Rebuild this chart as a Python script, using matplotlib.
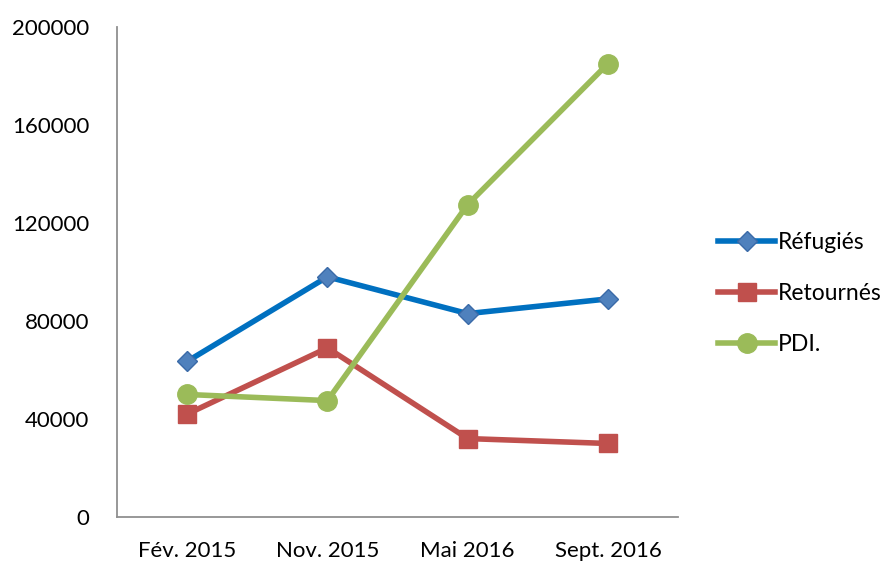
import matplotlib.pyplot as plt
import numpy as np

plt.rcParams['font.family'] = ['Lato', 'DejaVu Sans']

categories = ['Fév. 2015', 'Nov. 2015', 'Mai 2016', 'Sept. 2016']
refugies = [63500, 98000, 83000, 89000]
retournes = [42000, 69000, 32000, 30000]
pdi = [50000, 47500, 127500, 185000]

fig = plt.figure(figsize=(8.85, 5.62), dpi=100)
ax = fig.add_axes([0.1322, 0.0801, 0.634, 0.872])

x = np.arange(len(categories))
ax.plot(x, refugies, color='#0070c0', lw=4, marker='D', ms=10,
        mfc='#4f81bd', mec='#3a6aa8', label='Réfugiés', zorder=3)
ax.plot(x, retournes, color='#c0504d', lw=4, marker='s', ms=13,
        mfc='#c0504d', mec='#c0504d', label='Retournés', zorder=3)
ax.plot(x, pdi, color='#9bbb59', lw=4, marker='o', ms=14,
        mfc='#9bbb59', mec='#9bbb59', label='PDI.', zorder=4)

ax.set_xlim(-0.5, 3.5)
ax.set_ylim(0, 200000)
ax.set_yticks(np.arange(0, 200001, 40000))
ax.set_xticks(x)
ax.set_xticklabels(categories)
ax.tick_params(length=0, labelsize=16)
ax.tick_params(axis='y', pad=20)
ax.tick_params(axis='x', pad=17)
for s in ['top', 'right']:
    ax.spines[s].set_visible(False)
for s in ['left', 'bottom']:
    ax.spines[s].set_color('#909090')
    ax.spines[s].set_linewidth(1.3)

fig.legend(loc='center left', bbox_to_anchor=(0.801, 0.478), frameon=False,
           fontsize=16.5, handlelength=2.5, handletextpad=0.1,
           labelspacing=1.3, borderaxespad=0)

fig.savefig('out.png', dpi=100)
